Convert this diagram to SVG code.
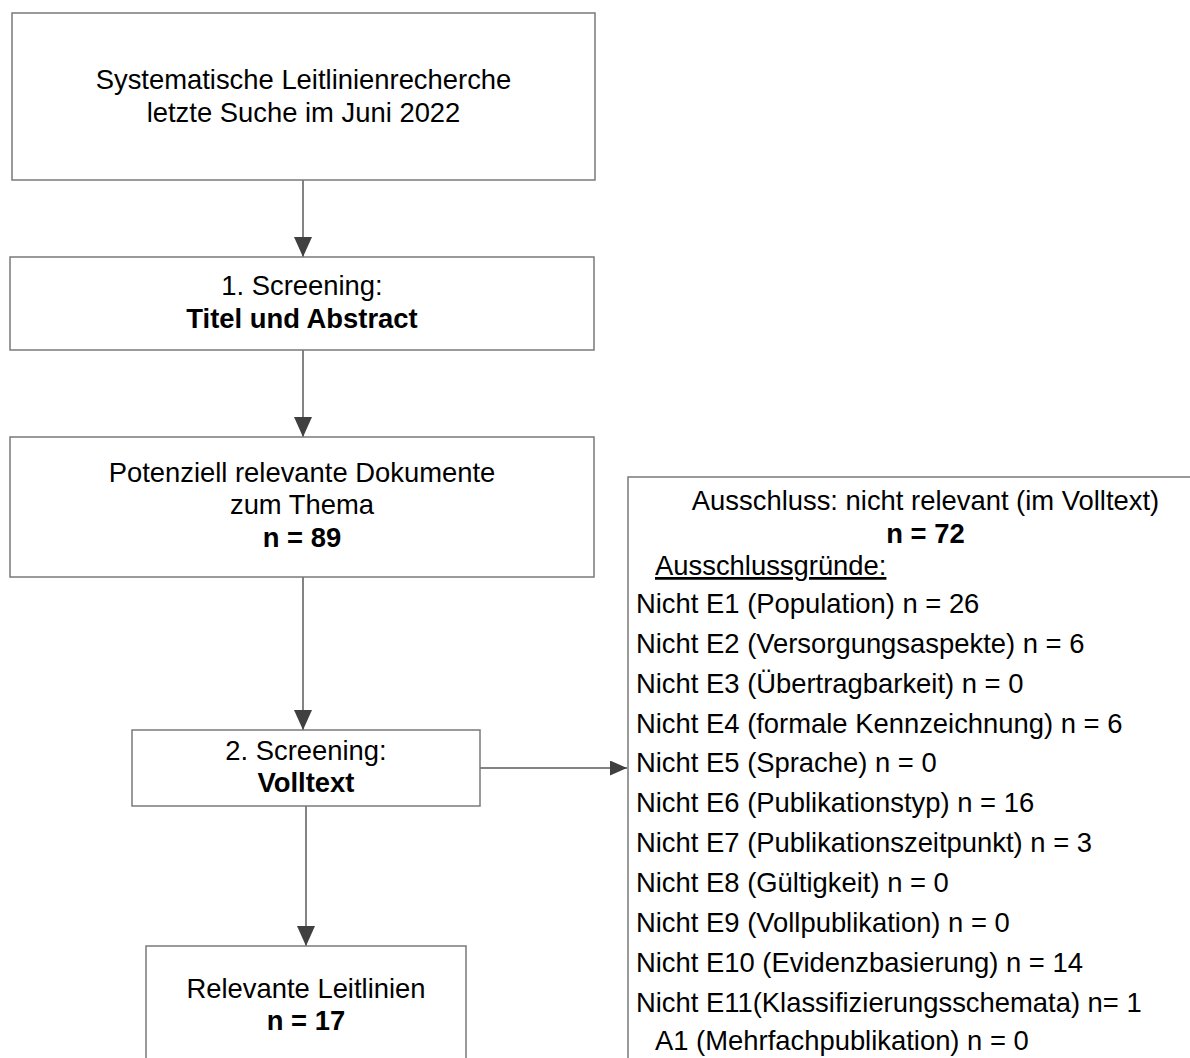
<svg xmlns="http://www.w3.org/2000/svg" width="1190" height="1058" viewBox="0 0 1190 1058">
<defs>
<style>
.box{fill:#fff;stroke:#7a7a7a;stroke-width:1.5}
.t{font-family:"Liberation Sans",Arial,sans-serif;font-size:27.4px;fill:#000}
.c{text-anchor:middle}
.b{font-weight:bold}
.edge{stroke:#5a5a5a;stroke-width:1.5;fill:none}
</style>
<marker id="ah" viewBox="0 0 20 18" refX="20" refY="9" markerUnits="userSpaceOnUse" markerWidth="20" markerHeight="18" orient="auto">
<path d="M0,0 L20,9 L0,18 Z" fill="#404040"/>
</marker>
<marker id="ahs" viewBox="0 0 17 15" refX="17" refY="7.5" markerUnits="userSpaceOnUse" markerWidth="17" markerHeight="15" orient="auto">
<path d="M0,0 L17,7.5 L0,15 Z" fill="#404040"/>
</marker>
</defs>
<rect width="1190" height="1058" fill="#fff"/>
<g id="connectors">
<line class="edge" x1="303" y1="180" x2="303" y2="257" marker-end="url(#ah)"/>
<line class="edge" x1="303" y1="350" x2="303" y2="437" marker-end="url(#ah)"/>
<line class="edge" x1="303" y1="577" x2="303" y2="730" marker-end="url(#ah)"/>
<line class="edge" x1="480" y1="768" x2="627" y2="768" marker-end="url(#ahs)"/>
<line class="edge" x1="306" y1="806" x2="306" y2="946" marker-end="url(#ah)"/>
</g>
<g id="n1">
<rect class="box" x="12" y="13" width="583" height="167"/>
<text class="t c" x="303.5" y="89">Systematische Leitlinienrecherche</text>
<text class="t c" x="303.5" y="122">letzte Suche im Juni 2022</text>
</g>
<g id="n2">
<rect class="box" x="10" y="257" width="584" height="93"/>
<text class="t c" x="302" y="295">1. Screening:</text>
<text class="t c b" x="302" y="328">Titel und Abstract</text>
</g>
<g id="n3">
<rect class="box" x="10" y="437" width="584" height="140"/>
<text class="t c" x="302" y="482">Potenziell relevante Dokumente</text>
<text class="t c" x="302" y="514">zum Thema</text>
<text class="t c b" x="302" y="547">n = 89</text>
</g>
<g id="n4">
<rect class="box" x="132" y="730" width="348" height="76"/>
<text class="t c" x="306" y="760">2. Screening:</text>
<text class="t c b" x="306" y="792">Volltext</text>
</g>
<g id="n5">
<rect class="box" x="628" y="477" width="620" height="620"/>
<text class="t c" x="925.5" y="510">Ausschluss: nicht relevant (im Volltext)</text>
<text class="t c b" x="925.5" y="543">n = 72</text>
<text class="t" x="655" y="575" text-decoration="underline">Ausschlussgründe:</text>
<text class="t" x="636" y="613">Nicht E1 (Population) n = 26</text>
<text class="t" x="636" y="653">Nicht E2 (Versorgungsaspekte) n = 6</text>
<text class="t" x="636" y="693">Nicht E3 (Übertragbarkeit) n = 0</text>
<text class="t" x="636" y="733">Nicht E4 (formale Kennzeichnung) n = 6</text>
<text class="t" x="636" y="772">Nicht E5 (Sprache) n = 0</text>
<text class="t" x="636" y="812">Nicht E6 (Publikationstyp) n = 16</text>
<text class="t" x="636" y="852">Nicht E7 (Publikationszeitpunkt) n = 3</text>
<text class="t" x="636" y="892">Nicht E8 (Gültigkeit) n = 0</text>
<text class="t" x="636" y="932">Nicht E9 (Vollpublikation) n = 0</text>
<text class="t" x="636" y="972">Nicht E10 (Evidenzbasierung) n = 14</text>
<text class="t" x="636" y="1012">Nicht E11(Klassifizierungsschemata) n= 1</text>
<text class="t" x="655" y="1050">A1 (Mehrfachpublikation) n = 0</text>
</g>
<g id="n6">
<rect class="box" x="146" y="946" width="320" height="150"/>
<text class="t c" x="306" y="998">Relevante Leitlinien</text>
<text class="t c b" x="306" y="1030">n = 17</text>
</g>
</svg>
